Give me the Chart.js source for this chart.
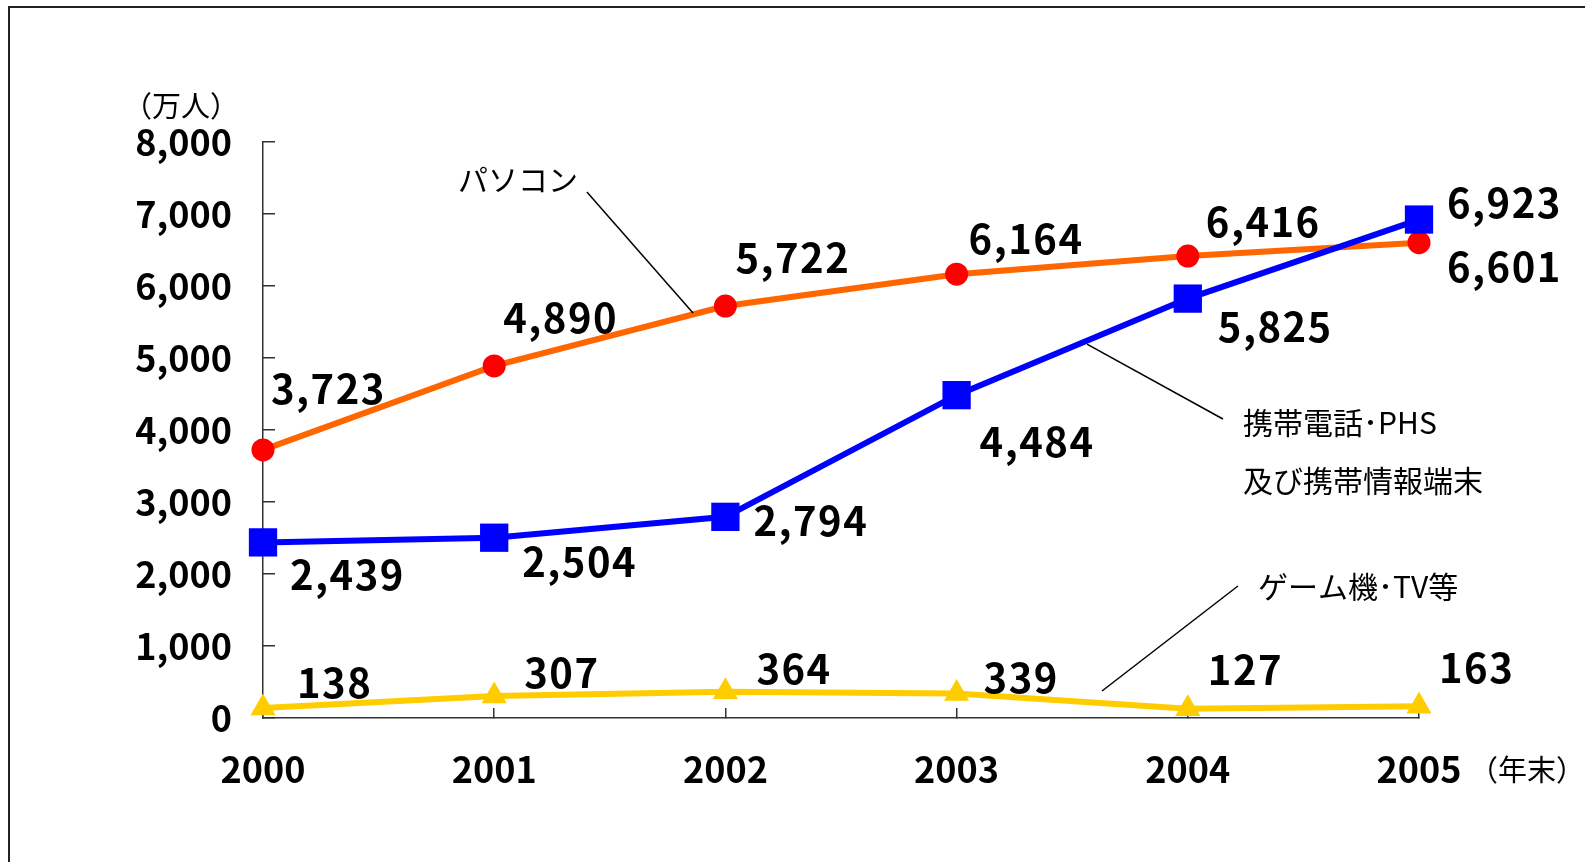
<!DOCTYPE html>
<html lang="ja">
<head>
<meta charset="utf-8">
<title>インターネット利用端末の推移</title>
<script src="https://cdn.jsdelivr.net/npm/chart.js@4/dist/chart.umd.min.js"></script>
<style>
  html, body { margin: 0; padding: 0; background: #ffffff; }
  #chart { display: block; }
</style>
</head>
<body>
<canvas id="chart" width="1585" height="862"></canvas>
<script>
// Data (万人)
const years = ['2000', '2001', '2002', '2003', '2004', '2005'];
const pcUsers = [3723, 4890, 5722, 6164, 6416, 6601];
const mobileUsers = [2439, 2504, 2794, 4484, 5825, 6923];
const gameTvUsers = [138, 307, 364, 339, 127, 163];
const yTicks = [0, 1000, 2000, 3000, 4000, 5000, 6000, 7000, 8000];

const FONT = "'Noto Sans CJK JP', 'Noto Sans', sans-serif";

// value label offsets in pixels from each point (left edge, vertical centre)
const labelOffsets = {
    pc: [[8, -61], [9, -48], [10, -48], [12, -35], [18, -34], [28, 24]],
    mobile: [[27, 32], [28, 24], [28, 4], [23, 47], [30, 28], [28, -17]],
    game: [[34, -25], [30, -23], [31, -23], [27, -16], [20, -39], [20, -38]]
};

// series names with leader lines, placed in data coordinates (category index, value)
const seriesNotes = [
    { lines: ['パソコン'], at: [0.843, 7472], lead: [[1.401, 7306], [1.860, 5625]] },
    { lines: ['携帯電話･PHS', '及び携帯情報端末'], at: [4.239, 4097], lineGap: 793, lead: [[3.564, 5194], [4.152, 4153]] },
    { lines: ['ゲーム機･TV等'], at: [4.304, 1819], lead: [[3.629, 375], [4.217, 1833]] }
];

function fmt(v) {
    return v.toLocaleString('en-US');
}

const annotationPlugin = {
    id: 'annotations',
    beforeDraw(chart) {
        const ctx = chart.ctx;
        ctx.save();
        ctx.fillStyle = '#ffffff';
        ctx.fillRect(0, 0, chart.width, chart.height);
        // outer frame (only top and left edges are visible)
        ctx.strokeStyle = '#222222';
        ctx.lineWidth = 2;
        ctx.strokeRect(9, 7, chart.width + 20, chart.height + 20);
        ctx.restore();
    },
    afterDatasetsDraw(chart) {
        const ctx = chart.ctx;
        const x = chart.scales.x;
        const y = chart.scales.y;
        ctx.save();

        // value labels
        ctx.font = 'bold 40px ' + FONT;
        ctx.letterSpacing = '1.5px';
        ctx.fillStyle = '#000000';
        ctx.textAlign = 'left';
        ctx.textBaseline = 'middle';
        const keys = ['pc', 'mobile', 'game'];
        chart.data.datasets.forEach((ds, di) => {
            const meta = chart.getDatasetMeta(di);
            const offs = labelOffsets[keys[di]];
            meta.data.forEach((pt, i) => {
                ctx.fillText(fmt(ds.data[i]), pt.x + offs[i][0], pt.y + offs[i][1]);
            });
        });
        ctx.letterSpacing = '0px';

        // series names + leader lines
        ctx.font = '30px ' + FONT;
        ctx.strokeStyle = '#000000';
        ctx.lineWidth = 1.5;
        seriesNotes.forEach(n => {
            ctx.beginPath();
            ctx.moveTo(x.getPixelForValue(n.lead[0][0]), y.getPixelForValue(n.lead[0][1]));
            ctx.lineTo(x.getPixelForValue(n.lead[1][0]), y.getPixelForValue(n.lead[1][1]));
            ctx.stroke();
            n.lines.forEach((t, li) => {
                const v = n.at[1] - li * (n.lineGap || 0);
                ctx.fillText(t, x.getPixelForValue(n.at[0]), y.getPixelForValue(v));
            });
        });

        // unit labels
        ctx.font = '29px ' + FONT;
        ctx.textAlign = 'center';
        ctx.fillText('（万人）', y.right - 82, y.getPixelForValue(8000) - 36);
        ctx.textAlign = 'left';
        ctx.fillText('（年末）', x.getPixelForValue(5) + 50, x.top + 52);
        ctx.restore();
    }
};

new Chart(document.getElementById('chart'), {
    type: 'line',
    data: {
        labels: years,
        datasets: [
            {
                label: 'パソコン',
                data: pcUsers,
                order: 1,
                borderColor: '#ff6600',
                borderWidth: 6,
                pointStyle: 'circle',
                pointRadius: 11.5,
                pointHoverRadius: 11.5,
                pointBackgroundColor: '#ff0000',
                pointBorderWidth: 0,
                clip: false
            },
            {
                label: '携帯電話・PHS及び携帯情報端末',
                data: mobileUsers,
                order: 0,
                borderColor: '#0000ff',
                borderWidth: 6,
                pointStyle: 'rect',
                pointRadius: 20,
                pointHoverRadius: 20,
                pointBackgroundColor: '#0000ff',
                pointBorderWidth: 0,
                clip: false
            },
            {
                label: 'ゲーム機・TV等',
                data: gameTvUsers,
                order: 2,
                borderColor: '#ffcc00',
                borderWidth: 6,
                pointStyle: 'triangle',
                pointRadius: 14.5,
                pointHoverRadius: 14.5,
                pointBackgroundColor: '#ffcc00',
                pointBorderWidth: 0,
                clip: false
            }
        ]
    },
    options: {
        responsive: false,
        animation: false,
        events: [],
        layout: { padding: { top: 142, right: 166, left: 0, bottom: 0 } },
        elements: { line: { tension: 0, fill: false } },
        plugins: {
            legend: { display: false },
            tooltip: { enabled: false }
        },
        scales: {
            x: {
                type: 'category',
                offset: false,
                border: { color: '#333333', width: 1.5 },
                grid: { drawOnChartArea: false, drawTicks: true, tickLength: -10, color: '#333333', lineWidth: 1.5 },
                ticks: {
                    color: '#000000',
                    font: { family: FONT, size: 36, weight: 'bold' },
                    padding: 40,
                    maxRotation: 0
                },
                afterFit(scale) { scale.height = 144; }
            },
            y: {
                min: 0,
                max: 8000,
                border: { color: '#333333', width: 1.5 },
                grid: { drawOnChartArea: false, drawTicks: true, tickLength: -12, color: '#333333', lineWidth: 1.5 },
                afterBuildTicks(scale) {
                    scale.ticks = yTicks.map(v => ({ value: v }));
                },
                ticks: {
                    color: '#000000',
                    font: { family: FONT, size: 36, weight: 'bold' },
                    padding: 43,
                    callback: v => fmt(v)
                },
                afterFit(scale) { scale.width = 263; }
            }
        }
    },
    plugins: [annotationPlugin]
});
</script>
</body>
</html>
